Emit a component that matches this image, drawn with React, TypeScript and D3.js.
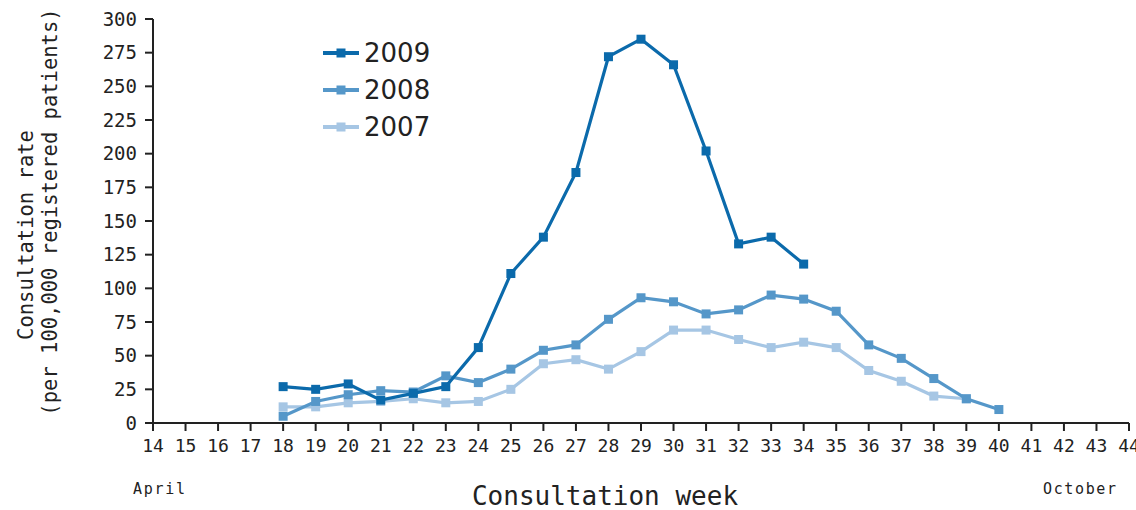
import React from "react";
import * as d3 from "d3";

const weeks: number[] = d3.range(14, 45);
const yTicks: number[] = [0, 25, 50, 75, 100, 125, 150, 175, 200, 225, 250, 275, 300];

const weeks2009: number[] = [18, 19, 20, 21, 22, 23, 24, 25, 26, 27, 28, 29, 30, 31, 32, 33, 34];
const values2009: number[] = [27, 25, 29, 17, 22, 27, 56, 111, 138, 186, 272, 285, 266, 202, 133, 138, 118];

const weeks2008: number[] = [18, 19, 20, 21, 22, 23, 24, 25, 26, 27, 28, 29, 30, 31, 32, 33, 34, 35, 36, 37, 38, 39, 40];
const values2008: number[] = [5, 16, 21, 24, 23, 35, 30, 40, 54, 58, 77, 93, 90, 81, 84, 95, 92, 83, 58, 48, 33, 18, 10];

const weeks2007: number[] = [18, 19, 20, 21, 22, 23, 24, 25, 26, 27, 28, 29, 30, 31, 32, 33, 34, 35, 36, 37, 38, 39];
const values2007: number[] = [12, 12, 15, 16, 18, 15, 16, 25, 44, 47, 40, 53, 69, 69, 62, 56, 60, 56, 39, 31, 20, 18];

const seriesNames: string[] = ["2009", "2008", "2007"];
const seriesColors: string[] = ["#0b6aab", "#5597c9", "#a6c6e4"];

export default function App() {
  const x = d3.scaleLinear().domain([14, 44]).range([153, 1129]);
  const y = d3.scaleLinear().domain([0, 300]).range([423, 19]);
  const series = [
    { name: seriesNames[0], color: seriesColors[0], w: weeks2009, v: values2009 },
    { name: seriesNames[1], color: seriesColors[1], w: weeks2008, v: values2008 },
    { name: seriesNames[2], color: seriesColors[2], w: weeks2007, v: values2007 },
  ];
  const line = d3
    .line<[number, number]>()
    .x((d) => x(d[0]))
    .y((d) => y(d[1]));
  const mono = "'DejaVu Sans Mono', monospace";
  const ms = 9;
  const drawOrder = [series[2], series[1], series[0]];
  return (
    <svg
      width={1136}
      height={510}
      style={{ position: "absolute", left: 0, top: 0, background: "#fff" }}
    >
      {/* Y axis */}
      <line x1={153} x2={153} y1={y(300)} y2={y(0)} stroke="#222" strokeWidth={2} />
      {yTicks.map((t) => (
        <g key={"y" + t}>
          <line x1={145} x2={153} y1={y(t)} y2={y(t)} stroke="#222" strokeWidth={2} />
          <text
            x={137}
            y={y(t)}
            dy="0.35em"
            textAnchor="end"
            fontFamily={mono}
            fontSize={19}
            fill="#222"
          >
            {t}
          </text>
        </g>
      ))}
      {/* X axis */}
      <line x1={x(14)} x2={x(44)} y1={423} y2={423} stroke="#222" strokeWidth={2} />
      {weeks.map((w) => (
        <g key={"x" + w}>
          <line x1={x(w)} x2={x(w)} y1={423} y2={431} stroke="#222" strokeWidth={2} />
          <text
            x={x(w)}
            y={452}
            textAnchor="middle"
            fontFamily={mono}
            fontSize={18}
            fill="#222"
          >
            {w}
          </text>
        </g>
      ))}
      <text x={133} y={494} fontFamily={mono} fontSize={15} textLength={52} fill="#222">
        April
      </text>
      <text x={1043} y={494} fontFamily={mono} fontSize={15} textLength={73} fill="#222">
        October
      </text>
      <text
        x={605}
        y={505}
        textAnchor="middle"
        fontFamily={mono}
        fontSize={26}
        fill="#222"
      >
        Consultation week
      </text>
      {/* Y title */}
      <text
        transform="translate(33,235) rotate(-90)"
        textAnchor="middle"
        fontFamily={mono}
        fontSize={20.5}
        fill="#222"
      >
        Consultation rate
      </text>
      <text
        transform="translate(57,212) rotate(-90)"
        textAnchor="middle"
        fontFamily={mono}
        fontSize={20.5}
        fill="#222"
      >
        (per 100,000 registered patients)
      </text>
      {/* Series */}
      {drawOrder.map((s) => {
        const pts: [number, number][] = s.w.map((w, i) => [w, s.v[i]]);
        return (
          <g key={s.name}>
            <path d={line(pts) || ""} fill="none" stroke={s.color} strokeWidth={3.2} />
            {pts.map((p, i) => (
              <rect
                key={i}
                x={x(p[0]) - ms / 2}
                y={y(p[1]) - ms / 2}
                width={ms}
                height={ms}
                fill={s.color}
              />
            ))}
          </g>
        );
      })}
      {/* Legend */}
      {series.map((s, i) => {
        const cy = 53 + i * 37;
        return (
          <g key={"lg" + s.name}>
            <line x1={323} x2={359} y1={cy} y2={cy} stroke={s.color} strokeWidth={4} />
            <rect x={341 - ms / 2} y={cy - ms / 2} width={ms} height={ms} fill={s.color} />
            <text
              x={364}
              y={cy}
              dy="0.36em"
              fontFamily="'DejaVu Sans', sans-serif"
              fontSize={26}
              fill="#222"
            >
              {s.name}
            </text>
          </g>
        );
      })}
    </svg>
  );
}
